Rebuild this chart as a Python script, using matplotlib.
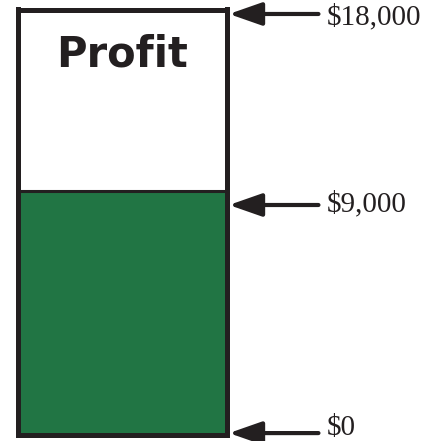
import matplotlib
matplotlib.use('Agg')
import matplotlib.pyplot as plt

# values of the chart
box_top = 18000              # top of the box
profit = 10300               # top of the green part
levels = [17810, 9720, 60]   # where the arrows point
labels = ['$18,000', '$9,000', '$0']

edge = '#231f20'
green = '#217544'

fig = plt.figure(figsize=(4.44, 4.41), dpi=100)
ax = fig.add_axes([17.5 / 444, 6.5 / 441, 209 / 444, 425 / 441])

ax.bar(0.5, profit, width=1, color=green, zorder=1)
ax.axhline(profit, color=edge, lw=2.2, zorder=2)

ax.set_xlim(0, 1)
ax.set_ylim(0, box_top)
ax.set_xticks([])
ax.set_yticks([])
for s in ax.spines.values():
    s.set_linewidth(3.6)
    s.set_color(edge)
    s.set_zorder(3)

ax.text(0.5, 0.893, 'Profit', transform=ax.transAxes, ha='center', va='center',
        fontsize=30, fontweight='heavy', family='DejaVu Sans', color=edge)

# arrows and labels
text_shift = [-2, 1, 4]  # small vertical nudge of the labels, in points
for y, lab, dy in zip(levels, labels, text_shift):
    ax.annotate('', xy=(1.012, y), xytext=(1.44, y),
                xycoords=('axes fraction', 'data'),
                textcoords=('axes fraction', 'data'),
                arrowprops=dict(arrowstyle='-|>,head_length=2.0,head_width=0.7',
                                lw=3, color=edge, shrinkA=0, shrinkB=0,
                                mutation_scale=10),
                annotation_clip=False)
    ax.annotate(lab, xy=(1.478, y), xycoords=('axes fraction', 'data'),
                xytext=(0, dy), textcoords='offset points',
                ha='left', va='center', fontsize=21, family='Liberation Serif',
                color=edge, annotation_clip=False)

fig.savefig('out.png', dpi=100)
